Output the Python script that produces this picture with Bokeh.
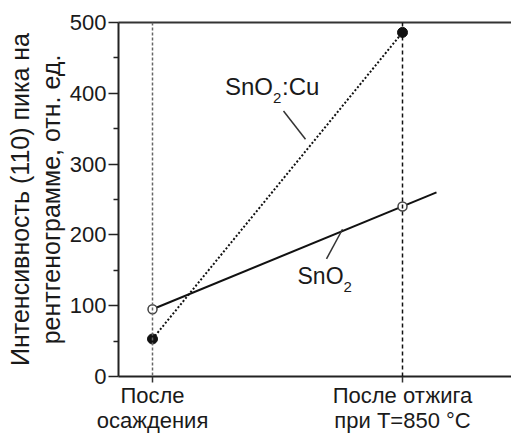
from bokeh.plotting import figure
from bokeh.models import Range1d, FixedTicker, LinearAxis, Span, Label
from bokeh.embed import file_html
from bokeh.resources import INLINE

# ---- data ----
stage_x = [0, 1]
stage_line1 = ["После", "После отжига"]
stage_line2 = ["осаждения", "при T=850 °C"]
sno2cu_vals = [53, 486]
sno2_vals = [95, 240]
sno2_trend_x = [0, 1.136]
sno2_trend_y = [95, 260]
y_ticks = [0, 100, 200, 300, 400, 500]
y_minor_ticks = [50, 150, 250, 350, 450]
y_label_lines = ["Интенсивность (110) пика на", "рентгенограмме, отн. ед."]
cu_label_pos = [0.29, 391]
sno2_label_pos = [0.58, 124]
cu_leader = [0.524, 375, 0.612, 335]
sno2_leader = [0.76, 208, 0.696, 166]

FONT = "Liberation Sans"
TXT = "#1a1a1a"

p = figure(width=511, height=435, output_backend="svg", toolbar_location=None,
           x_range=Range1d(-0.136, 1.436), y_range=Range1d(0, 500),
           min_border_left=118, min_border_top=22, min_border_bottom=58,
           min_border_right=0)
p.outline_line_color = None
p.xgrid.visible = False
p.ygrid.visible = False
p.background_fill_color = "white"
p.border_fill_color = "white"

# y axis (inner title line)
ya = p.yaxis[0]
ya.ticker = FixedTicker(ticks=y_ticks, minor_ticks=y_minor_ticks)
ya.axis_line_width = 2
ya.axis_line_color = "#222"
ya.major_tick_line_color = "#222"
ya.minor_tick_line_color = "#222"
ya.major_tick_line_width = 1.5
ya.minor_tick_line_width = 1.5
ya.major_tick_out = 10
ya.major_tick_in = 0
ya.minor_tick_out = 5
ya.minor_tick_in = 0
ya.major_label_standoff = 2
ya.major_label_text_font = FONT
ya.major_label_text_font_size = "22px"
ya.major_label_text_color = TXT
ya.axis_label = y_label_lines[1]
ya.axis_label_text_font = FONT
ya.axis_label_text_font_size = "25px"
ya.axis_label_text_font_style = "normal"
ya.axis_label_text_color = TXT
ya.axis_label_standoff = 2

# outer title line as a second, bare left axis
ya2 = LinearAxis(ticker=FixedTicker(ticks=[], minor_ticks=[]))
ya2.axis_line_color = None
ya2.major_tick_line_color = None
ya2.minor_tick_line_color = None
ya2.major_tick_out = 0
ya2.minor_tick_out = 0
ya2.major_label_text_font_size = "0px"
ya2.axis_label = y_label_lines[0]
ya2.axis_label_text_font = FONT
ya2.axis_label_text_font_size = "25px"
ya2.axis_label_text_font_style = "normal"
ya2.axis_label_text_color = TXT
ya2.axis_label_standoff = 0
p.add_layout(ya2, "left")

# x axis: first line of category labels
xa = p.xaxis[0]
xa.ticker = FixedTicker(ticks=stage_x, minor_ticks=[])
xa.major_label_overrides = {stage_x[i]: stage_line1[i] for i in range(2)}
xa.major_label_text_font = FONT
xa.major_label_text_font_size = "22px"
xa.major_label_text_color = TXT
xa.major_label_standoff = 0
xa.axis_line_width = 2
xa.axis_line_color = "#222"
xa.major_tick_line_color = "#333"
xa.major_tick_line_width = 1.5
xa.major_tick_out = 6
xa.major_tick_in = 0

# second line of category labels
xa2 = LinearAxis(ticker=FixedTicker(ticks=stage_x, minor_ticks=[]))
xa2.major_label_overrides = {stage_x[i]: stage_line2[i] for i in range(2)}
xa2.major_label_text_font = FONT
xa2.major_label_text_font_size = "22px"
xa2.major_label_text_color = TXT
xa2.major_label_standoff = -3
xa2.axis_line_color = None
xa2.major_tick_line_color = None
xa2.minor_tick_line_color = None
xa2.major_tick_out = 0
xa2.major_tick_in = 0
p.add_layout(xa2, "below")

# top frame line
top = LinearAxis(ticker=FixedTicker(ticks=[], minor_ticks=[]))
top.axis_line_width = 2
top.axis_line_color = "#333"
top.major_tick_line_color = None
top.minor_tick_line_color = None
top.major_tick_out = 0
top.major_label_text_font_size = "0px"
p.add_layout(top, "above")

# vertical guides
p.add_layout(Span(location=stage_x[0], dimension="height", line_color="#666",
                  line_dash="3 2", line_width=1.5))
p.add_layout(Span(location=stage_x[1], dimension="height", line_color="#111",
                  line_dash="4 3", line_width=1.5))

# series
p.line(stage_x, sno2cu_vals, line_color="#111", line_width=2, line_dash="2 2")
p.line(sno2_trend_x, sno2_trend_y, line_color="#111", line_width=2)
p.scatter(stage_x, sno2cu_vals, size=10, marker="circle", fill_color="#111",
          line_color="#111")
p.scatter(stage_x, sno2_vals, size=9, marker="circle", fill_color="white",
          line_color="#444", line_width=1.5)

# leaders
p.segment(x0=[cu_leader[0], sno2_leader[0]], y0=[cu_leader[1], sno2_leader[1]],
          x1=[cu_leader[2], sno2_leader[2]], y1=[cu_leader[3], sno2_leader[3]],
          line_color="#333", line_width=1.5)

def lab(x, y, text, size, **kw):
    p.add_layout(Label(x=x, y=y, text=text, text_font=FONT,
                       text_font_size=size, text_color=TXT, **kw))

# species labels with subscripts
lab(cu_label_pos[0], cu_label_pos[1], "SnO", "24px")
lab(cu_label_pos[0], cu_label_pos[1], "2", "15px", x_offset=48, y_offset=-3)
lab(cu_label_pos[0], cu_label_pos[1], ":Cu", "24px", x_offset=57)
lab(sno2_label_pos[0], sno2_label_pos[1], "SnO", "23px")
lab(sno2_label_pos[0], sno2_label_pos[1], "2", "15px", x_offset=46, y_offset=-3)

open("out.html", "w").write(file_html(p, INLINE))
